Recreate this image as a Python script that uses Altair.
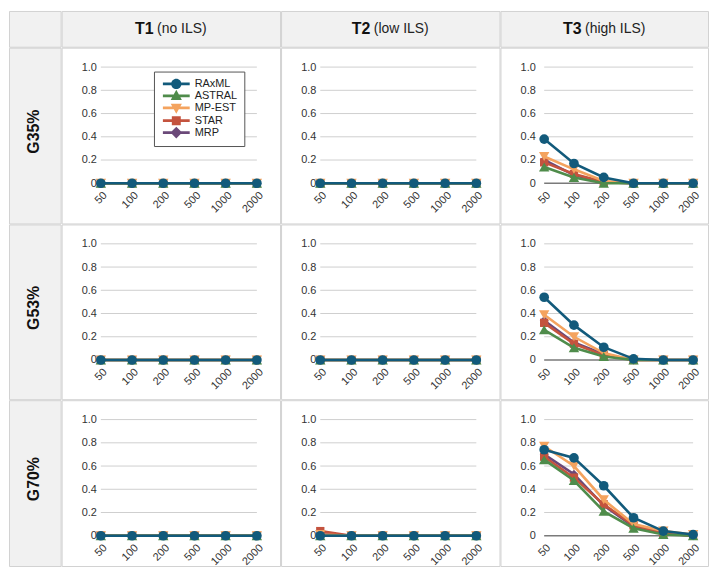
import altair as alt
import pandas as pd

# ---------------- data ----------------
sizes = ['50', '100', '200', '500', '1000', '2000']
methods = ['RAxML', 'ASTRAL', 'MP-EST', 'STAR', 'MRP']
draw_order = ['MRP', 'STAR', 'MP-EST', 'ASTRAL', 'RAxML']
colors = ['#125a7b', '#4f8c4b', '#f4a35e', '#c4533e', '#6b4979']
row_labels = ['G35%', 'G53%', 'G70%']
col_bold = ['T1', 'T2', 'T3']
col_rest = ['(no ILS)', '(low ILS)', '(high ILS)']
grid_values = [0.2, 0.4, 0.6, 0.8, 1.0]
y_ticks = [0, 0.2, 0.4, 0.6, 0.8, 1.0]

# G35%
g35_t1_raxml = [0, 0, 0, 0, 0, 0]
g35_t1_astral = [0, 0, 0, 0, 0, 0]
g35_t1_mpest = [0, 0, 0, 0, 0, 0]
g35_t1_star = [0, 0, 0, 0, 0, 0]
g35_t1_mrp = [0, 0, 0, 0, 0, 0]

g35_t2_raxml = [0, 0, 0, 0, 0, 0]
g35_t2_astral = [0, 0, 0, 0, 0, 0]
g35_t2_mpest = [0, 0, 0, 0, 0, 0]
g35_t2_star = [0, 0, 0, 0, 0, 0]
g35_t2_mrp = [0, 0, 0, 0, 0, 0]

g35_t3_raxml = [0.38, 0.17, 0.05, 0, 0, 0]
g35_t3_astral = [0.14, 0.05, 0.0, 0, 0, 0]
g35_t3_mpest = [0.23, 0.12, 0.02, 0, 0, 0]
g35_t3_star = [0.18, 0.08, 0.01, 0, 0, 0]
g35_t3_mrp = [0.20, 0.07, 0.01, 0, 0, 0]

# G53%
g53_t1_raxml = [0, 0, 0, 0, 0, 0]
g53_t1_astral = [0, 0, 0, 0, 0, 0]
g53_t1_mpest = [0, 0, 0, 0, 0, 0]
g53_t1_star = [0, 0, 0, 0, 0, 0]
g53_t1_mrp = [0, 0, 0, 0, 0, 0]

g53_t2_raxml = [0, 0, 0, 0, 0, 0]
g53_t2_astral = [0, 0, 0, 0, 0, 0]
g53_t2_mpest = [0, 0, 0, 0, 0, 0]
g53_t2_star = [0, 0, 0, 0, 0, 0]
g53_t2_mrp = [0, 0, 0, 0, 0, 0]

g53_t3_raxml = [0.54, 0.30, 0.11, 0.01, 0, 0]
g53_t3_astral = [0.26, 0.105, 0.03, 0, 0, 0]
g53_t3_mpest = [0.39, 0.20, 0.06, 0, 0, 0]
g53_t3_star = [0.32, 0.14, 0.04, 0, 0, 0]
g53_t3_mrp = [0.34, 0.15, 0.05, 0, 0, 0]

# G70%
g70_t1_raxml = [0, 0, 0, 0, 0, 0]
g70_t1_astral = [0, 0, 0, 0, 0, 0]
g70_t1_mpest = [0, 0, 0, 0, 0, 0]
g70_t1_star = [0, 0, 0, 0, 0, 0]
g70_t1_mrp = [0, 0, 0, 0, 0, 0]

g70_t2_raxml = [0, 0, 0, 0, 0, 0]
g70_t2_astral = [0, 0, 0, 0, 0, 0]
g70_t2_mpest = [0.01, 0, 0, 0, 0, 0]
g70_t2_star = [0.04, 0, 0, 0, 0, 0]
g70_t2_mrp = [0.02, 0, 0, 0, 0, 0]

g70_t3_raxml = [0.74, 0.67, 0.43, 0.155, 0.04, 0.01]
g70_t3_astral = [0.655, 0.475, 0.21, 0.065, 0.01, 0]
g70_t3_mpest = [0.77, 0.60, 0.31, 0.10, 0.04, 0.01]
g70_t3_star = [0.68, 0.50, 0.27, 0.09, 0.02, 0]
g70_t3_mrp = [0.70, 0.53, 0.26, 0.08, 0.02, 0]

cells = [
    [
        [g35_t1_raxml, g35_t1_astral, g35_t1_mpest, g35_t1_star, g35_t1_mrp],
        [g35_t2_raxml, g35_t2_astral, g35_t2_mpest, g35_t2_star, g35_t2_mrp],
        [g35_t3_raxml, g35_t3_astral, g35_t3_mpest, g35_t3_star, g35_t3_mrp],
    ],
    [
        [g53_t1_raxml, g53_t1_astral, g53_t1_mpest, g53_t1_star, g53_t1_mrp],
        [g53_t2_raxml, g53_t2_astral, g53_t2_mpest, g53_t2_star, g53_t2_mrp],
        [g53_t3_raxml, g53_t3_astral, g53_t3_mpest, g53_t3_star, g53_t3_mrp],
    ],
    [
        [g70_t1_raxml, g70_t1_astral, g70_t1_mpest, g70_t1_star, g70_t1_mrp],
        [g70_t2_raxml, g70_t2_astral, g70_t2_mpest, g70_t2_star, g70_t2_mrp],
        [g70_t3_raxml, g70_t3_astral, g70_t3_mpest, g70_t3_star, g70_t3_mrp],
    ],
]

# ---------------- styles ----------------
FONT = 'Liberation Sans'
BORDER = '#d2d2d2'
HEAD_BG = '#f1f1f1'
plot_shapes = {'RAxML': 'circle', 'ASTRAL': 'triangle-up', 'MP-EST': 'triangle-down',
               'STAR': 'square', 'MRP': 'diamond'}
plot_sizes = {'RAxML': 95, 'ASTRAL': 110, 'MP-EST': 110, 'STAR': 70, 'MRP': 80}
# filled legend glyphs: a thin bar (the line) plus the marker, same winding so both fill
legend_paths = [
    'M-3,-0.3H3V0.3H-3ZM1.15,0A1.15,1.15,0,1,1,-1.15,0A1.15,1.15,0,1,1,1.15,0Z',
    'M-3,-0.3H3V0.3H-3ZM0,-1.35L1.25,0.9L-1.25,0.9Z',
    'M-3,-0.3H3V0.3H-3ZM0,1.35L-1.25,-0.9L1.25,-0.9Z',
    'M-3,-0.3H3V0.3H-3ZM-1,-1H1V1H-1Z',
    'M-3,-0.3H3V0.3H-3ZM0,-1.3L1.3,0L0,1.3L-1.3,0Z',
]
color_of = dict(zip(methods, colors))

LEFT_W = 52
HEAD_H = 36
SPACING = -2
col_widths = [220, 220, 209]
row_heights = [177, 176, 167]
PX_PER_UNIT = 117.0
TOP_GAP = 19.5      # from cell top to y=1.0
ZERO_POS = 136.5    # from cell top to y=0
FIRST_X = 44        # first point from cell left
STEP = 30


def cell_chart(values, H, W, with_legend=False):
    recs = []
    for m, vals in zip(methods, values):
        for i, (s, v) in enumerate(zip(sizes, vals)):
            recs.append({'size': s, 'idx': i, 'method': m, 'value': v})
    df = pd.DataFrame(recs)

    span = W - STEP * (len(sizes) - 1)
    xs = alt.Scale(type='point', domain=sizes, padding=span / (2 * STEP), align=FIRST_X / span)
    ys = alt.Scale(domain=[-(H - ZERO_POS) / PX_PER_UNIT, 1 + TOP_GAP / PX_PER_UNIT],
                   nice=False, zero=False)
    xaxis = alt.Axis(title=None, labelAngle=-45, domain=False, ticks=False, tickSize=0,
                     grid=False, labelPadding=0, offset=-(H - ZERO_POS - 6),
                     labelFontSize=11, labelColor='#333', labelFont=FONT)
    yaxis = alt.Axis(title=None, values=y_ticks, domain=False, ticks=False, tickSize=0,
                     grid=False, labelPadding=0, offset=-35, labelFontSize=11,
                     labelColor='#333', labelFont=FONT,
                     labelExpr="datum.value == 0 ? '0' : format(datum.value, '.1f')")

    def X(field):
        return alt.X(field, scale=xs, axis=xaxis, sort=sizes)

    def Y(field):
        return alt.Y(field, scale=ys, axis=yaxis)

    grid_df = pd.DataFrame({'g': grid_values, 'x0': sizes[0], 'x1': sizes[-1]})
    zero_df = pd.DataFrame({'g': [y_ticks[0]], 'x0': sizes[0], 'x1': sizes[-1]})
    layers = [
        alt.Chart(grid_df).mark_rule(color='#cfcfcf', strokeWidth=1).encode(
            x=X('x0:O'), x2='x1', y=Y('g:Q')),
        alt.Chart(zero_df).mark_rule(color='#7a7a7a', strokeWidth=1.5).encode(
            x=X('x0:O'), x2='x1', y=Y('g:Q')),
    ]
    for m in draw_order:
        sub = df[df['method'] == m]
        c = color_of[m]
        layers.append(alt.Chart(sub).mark_line(color=c, strokeWidth=2.6).encode(
            x=X('size:O'), y=Y('value:Q'), order='idx:Q'))
        layers.append(alt.Chart(sub).mark_point(filled=True, opacity=1, color=c,
                                                shape=plot_shapes[m], size=plot_sizes[m]).encode(
            x=X('size:O'), y=Y('value:Q')))
    if with_legend:
        # legend position is given relative to the whole chart
        leg = alt.Legend(title=None, orient='none', legendX=146, legendY=61,
                         padding=7, rowPadding=0, symbolSize=81, symbolStrokeWidth=0,
                         symbolOffset=10, labelOffset=13, labelFontSize=11,
                         labelFont=FONT, labelColor='#222', strokeColor='#555',
                         fillColor='white', cornerRadius=0, symbolOpacity=1)
        layers.append(alt.Chart(df).transform_filter(alt.datum.value < -5).mark_point(
            filled=True, opacity=1, strokeWidth=0).encode(
            x=X('size:O'), y=Y('value:Q'),
            fill=alt.Fill('method:N', scale=alt.Scale(domain=methods, range=colors), legend=leg),
            shape=alt.Shape('method:N', scale=alt.Scale(domain=methods, range=legend_paths),
                            legend=leg)))
    return alt.layer(*layers).properties(width=W, height=H)


# approximate glyph widths (per 1000 em) for centering the mixed-weight headers
BOLD_W = {'T': 611, '1': 556, '2': 556, '3': 556}
REG_W = {'(': 333, ')': 333, ' ': 278, 'I': 278, 'L': 556, 'S': 667, 'n': 556, 'o': 556,
         'l': 222, 'w': 722, 'h': 556, 'i': 222, 'g': 556}


def text_width(s, table, size):
    return sum(table.get(ch, 556) for ch in s) * size / 1000.0


def col_header(i, W):
    bsize, rsize, gap = 16, 14, 3.5
    wb = text_width(col_bold[i], BOLD_W, bsize)
    wr = text_width(col_rest[i], REG_W, rsize)
    start = W / 2 - (wb + gap + wr) / 2
    d = pd.DataFrame({'b': [col_bold[i]], 'r': [col_rest[i]]})
    base = alt.Chart(d)
    t1 = base.mark_text(font=FONT, fontWeight='bold', fontSize=bsize, align='right',
                        baseline='middle', color='#111').encode(
        text='b:N', x=alt.value(start + wb), y=alt.value(HEAD_H / 2))
    t2 = base.mark_text(font=FONT, fontSize=rsize, align='left', baseline='middle',
                        color='#222').encode(
        text='r:N', x=alt.value(start + wb + gap), y=alt.value(HEAD_H / 2))
    return alt.layer(t1, t2).properties(width=W, height=HEAD_H,
                                        view=alt.ViewBackground(fill=HEAD_BG, stroke=BORDER))


def row_header(r, H):
    d = pd.DataFrame({'lab': [row_labels[r]]})
    return alt.Chart(d).mark_text(font=FONT, fontWeight='bold', fontSize=16, angle=270,
                                  align='center', baseline='middle', color='#111').encode(
        text='lab:N', x=alt.value(LEFT_W / 2 - 1), y=alt.value(H / 2 - 4)).properties(
        width=LEFT_W, height=H, view=alt.ViewBackground(fill=HEAD_BG, stroke=BORDER))


corner = alt.Chart(pd.DataFrame({'t': ['']})).mark_text().encode(text='t:N').properties(
    width=LEFT_W, height=HEAD_H, view=alt.ViewBackground(fill=HEAD_BG, stroke=BORDER))

rows = [alt.hconcat(corner, *[col_header(i, col_widths[i]) for i in range(3)], spacing=SPACING)]
for r in range(3):
    panels = [cell_chart(cells[r][c], row_heights[r], col_widths[c], with_legend=(r == 0 and c == 0))
              for c in range(3)]
    rows.append(alt.hconcat(row_header(r, row_heights[r]), *panels, spacing=SPACING))

chart = alt.vconcat(*rows, spacing=SPACING).properties(padding=0).configure(
    font=FONT).configure_view(stroke=BORDER, fill='white')

chart.save('out.html', embed_options={'renderer': 'svg', 'actions': False})
